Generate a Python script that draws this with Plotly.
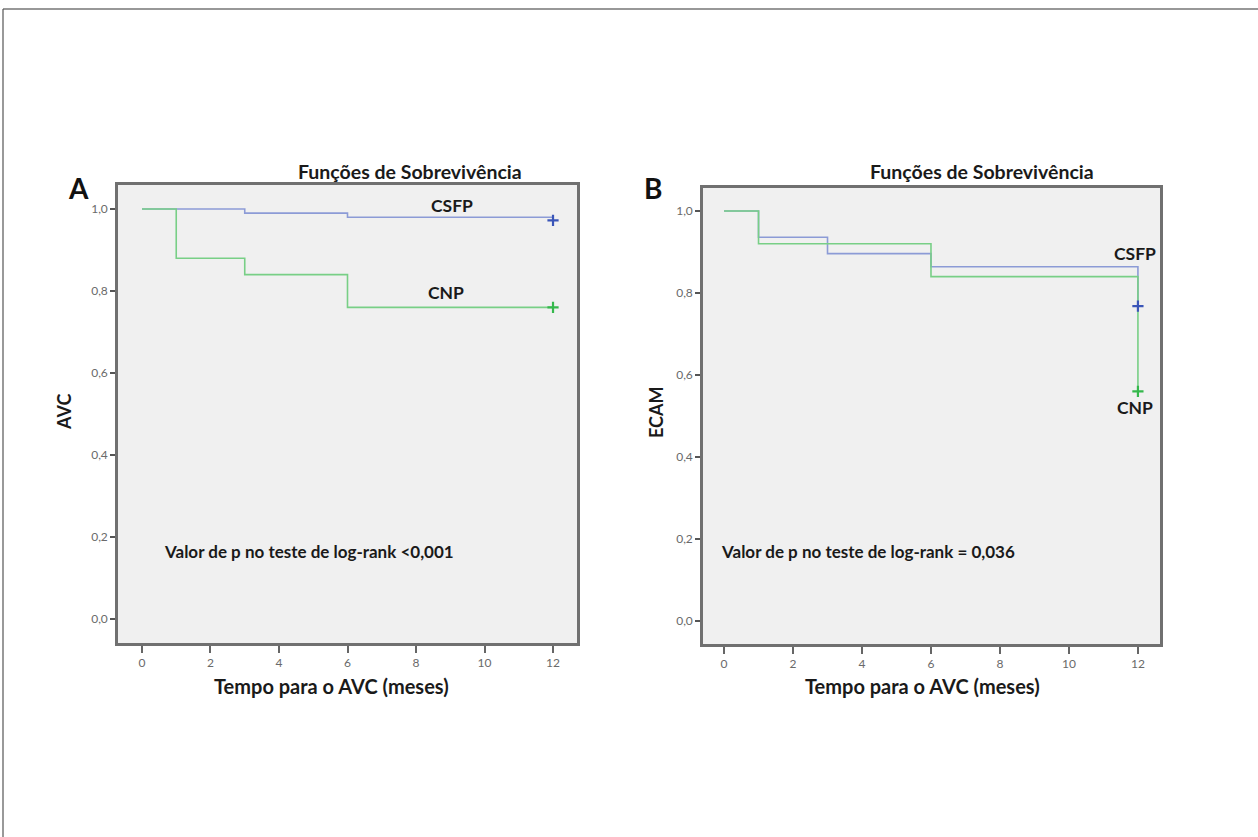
import plotly.graph_objects as go

# ---------------- data ----------------
months_ticks = [0, 2, 4, 6, 8, 10, 12]
y_ticks = [0.0, 0.2, 0.4, 0.6, 0.8, 1.0]
y_ticklabels = ["0,0", "0,2", "0,4", "0,6", "0,8", "1,0"]

# Panel A (AVC)
a_csfp_t = [0, 3, 6, 12]
a_csfp_s = [1.0, 0.99, 0.98, 0.972]
a_cnp_t = [0, 1, 3, 6, 12]
a_cnp_s = [1.0, 0.88, 0.84, 0.76, 0.76]
a_csfp_cens_t = [12]
a_csfp_cens_s = [0.972]
a_cnp_cens_t = [12]
a_cnp_cens_s = [0.76]

# Panel B (ECAM)
b_csfp_t = [0, 1, 3, 6, 12]
b_csfp_s = [1.0, 0.936, 0.896, 0.864, 0.768]
b_cnp_t = [0, 1, 6, 12]
b_cnp_s = [1.0, 0.92, 0.84, 0.56]
b_csfp_cens_t = [12]
b_csfp_cens_s = [0.768]
b_cnp_cens_t = [12]
b_cnp_cens_s = [0.56]

BLUE_LINE = "#8c9bd6"
GREEN_LINE = "#78cf86"
BLUE_MK = "#3a55b8"
GREEN_MK = "#35b84c"
FONT = "Lato"
W, H = 1258, 837

fig = go.Figure()

def add_panel(xa, ya, ct, cs, nt, ns, cct, ccs, nct, ncs):
    fig.add_trace(go.Scatter(x=ct, y=cs, mode="lines", line=dict(color=BLUE_LINE, width=1.6, shape="hv"),
                             xaxis=xa, yaxis=ya, showlegend=False, hoverinfo="skip"))
    fig.add_trace(go.Scatter(x=nt, y=ns, mode="lines", line=dict(color=GREEN_LINE, width=1.6, shape="hv"),
                             xaxis=xa, yaxis=ya, showlegend=False, hoverinfo="skip"))
    fig.add_trace(go.Scatter(x=cct, y=ccs, mode="markers",
                             marker=dict(symbol="cross-thin", size=8, line=dict(color=BLUE_MK, width=2.2)),
                             xaxis=xa, yaxis=ya, showlegend=False, hoverinfo="skip"))
    fig.add_trace(go.Scatter(x=nct, y=ncs, mode="markers",
                             marker=dict(symbol="cross-thin", size=8, line=dict(color=GREEN_MK, width=2.2)),
                             xaxis=xa, yaxis=ya, showlegend=False, hoverinfo="skip"))

add_panel("x", "y", a_csfp_t, a_csfp_s, a_cnp_t, a_cnp_s, a_csfp_cens_t, a_csfp_cens_s, a_cnp_cens_t, a_cnp_cens_s)
add_panel("x2", "y2", b_csfp_t, b_csfp_s, b_cnp_t, b_cnp_s, b_csfp_cens_t, b_csfp_cens_s, b_cnp_cens_t, b_cnp_cens_s)

tickfont = dict(family=FONT, size=12, color="#6a6a6a")
common_x = dict(tickvals=months_ticks, ticktext=[str(v) for v in months_ticks], ticks="outside", ticklen=7,
                tickwidth=2, tickcolor="#666666", showline=True, mirror=True, linecolor="#707070", linewidth=2.5,
                showgrid=False, zeroline=False, tickfont=tickfont, fixedrange=True)
common_y = dict(tickvals=y_ticks, ticktext=y_ticklabels, ticks="outside", ticklen=5, tickwidth=2,
                tickcolor="#555555", showline=True, mirror=True, linecolor="#707070", linewidth=2.5,
                showgrid=False, zeroline=False, tickfont=tickfont, fixedrange=True)

def px_x(p):
    return p / W

def px_y(p):
    return 1 - p / H

fig.update_layout(
    width=W, height=H,
    margin=dict(l=0, r=0, t=0, b=0),
    paper_bgcolor="white",
    plot_bgcolor="#f0f0f0",
    xaxis=dict(domain=[px_x(118), px_x(577)], range=[-0.70, 12.70], anchor="y", **common_x),
    yaxis=dict(domain=[px_y(643), px_y(185)], range=[-0.0585, 1.0585], anchor="x", **common_y),
    xaxis2=dict(domain=[px_x(703), px_x(1160)], range=[-0.61, 12.64], anchor="y2", **common_x),
    yaxis2=dict(domain=[px_y(644), px_y(188)], range=[-0.056, 1.056], anchor="x2", **common_y),
)

def txt(x, y, s, size, xanchor="center", angle=0, color="#1a1a1a", bold=True):
    fig.add_annotation(x=px_x(x), y=px_y(y), xref="paper", yref="paper", text=f"<b>{s}</b>" if bold else s,
                       showarrow=False, xanchor=xanchor, yanchor="middle", textangle=angle,
                       font=dict(family=FONT, size=size, color=color))

# panel letters
txt(79, 188, "A", 28, color="#111111")
txt(653, 188, "B", 28, color="#111111")
# titles
txt(410, 172, "Funções de Sobrevivência", 19.5)
txt(982, 172, "Funções de Sobrevivência", 19.5)
# y titles
txt(64, 412, "AVC", 18, angle=-90)
txt(656, 412, "ECAM", 18, angle=-90)
# x titles
txt(331, 686, "Tempo para o AVC (meses)", 20)
txt(922, 686, "Tempo para o AVC (meses)", 20)
# curve labels
txt(452, 205, "CSFP", 17.5)
txt(446, 293, "CNP", 17.5)
txt(1135, 253, "CSFP", 17.5)
txt(1135, 408, "CNP", 17.5)
# p-values
txt(162, 551, "Valor de p no teste de log-rank &lt;0,001", 17, xanchor="left")
txt(719, 551, "Valor de p no teste de log-rank = 0,036", 17, xanchor="left")

# outer frame (top and left edges)
fig.add_shape(type="line", xref="paper", yref="paper", x0=px_x(3), x1=1, y0=px_y(9), y1=px_y(9),
              line=dict(color="#333333", width=1.2))
fig.add_shape(type="line", xref="paper", yref="paper", x0=px_x(3), x1=px_x(3), y0=px_y(9), y1=0,
              line=dict(color="#555555", width=1.2))

fig.write_html("out.html", config={"displayModeBar": False},
               post_script="document.body.style.margin='0';document.body.style.overflow='hidden';")
